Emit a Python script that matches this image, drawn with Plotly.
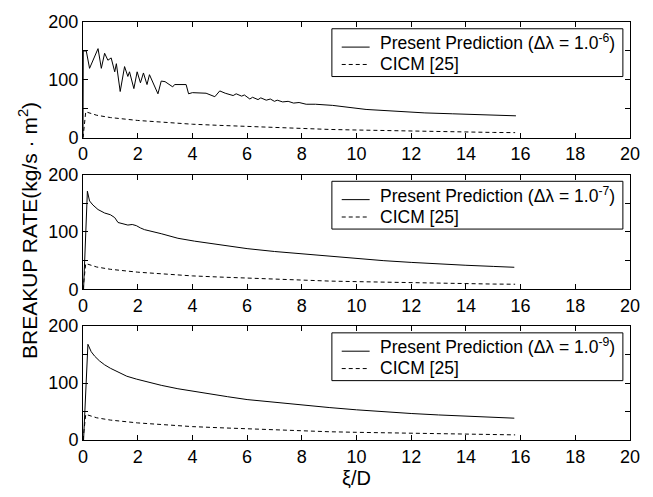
import plotly.graph_objects as go

# ---- data -------------------------------------------------------------
# Present prediction, step 1.0e-6 (oscillating solution)
x_p6 = [0.0, 0.01, 0.12, 0.24, 0.55, 0.67, 0.79, 0.91, 1.03, 1.16, 1.22, 1.36,
        1.52, 1.64, 1.70, 1.86, 1.98, 2.10, 2.21, 2.34, 2.43, 2.74, 2.86, 3.0,
        3.28, 3.35, 3.77, 3.86, 4.0, 4.5, 4.82, 5.0, 5.2, 5.49, 5.6, 5.8, 5.9,
        6.1, 6.2, 6.4, 6.5, 6.7, 6.85, 7.0, 7.1, 7.3, 7.5, 7.7, 7.9, 8.16, 8.5,
        9.13, 10.35, 11.57, 12.5, 13.5, 14.5, 15.83]
y_p6 = [0, 150, 150, 120, 154, 120, 146, 134, 138, 114, 128, 80,
        123, 106, 114, 85, 114, 95, 112, 92, 109, 76, 98, 97,
        88, 92, 92, 76, 78, 77, 71, 81, 77, 73, 76, 72, 74,
        67, 70, 66, 69, 65, 67, 63, 65, 62, 63, 60, 61, 58, 58,
        56, 49, 45, 43, 41.5, 40, 38]

# Present prediction, step 1.0e-7
x_p7 = [0.02, 0.16, 0.24, 0.36, 0.55, 0.79, 1.0, 1.16, 1.28, 1.64, 1.8, 1.95,
        2.1, 2.25, 2.86, 3.47, 4.08, 4.68, 5.29, 6.0, 7.0, 8.0, 9.0, 10.0,
        11.0, 12.0, 13.0, 14.0, 15.0, 15.77]
y_p7 = [0, 171, 154, 147, 139, 133, 130, 125, 116.5, 112, 113, 111,
        107, 104, 97, 89, 84, 80, 76, 71, 66, 62, 57, 53,
        50, 47, 44, 42, 40, 38.5]

# Present prediction, step 1.0e-9
x_p9 = [0.02, 0.18, 0.3, 0.43, 0.6, 0.79, 1.0, 1.28, 1.6, 1.95, 2.4, 2.86,
        3.47, 4.08, 4.68, 5.29, 6.0, 7.0, 8.0, 9.0, 10.0, 11.0, 12.0, 13.0,
        14.0, 15.0, 15.77]
y_p9 = [0, 168, 155, 147, 139, 132, 126, 119, 112, 107, 101, 96,
        90, 85, 81, 76, 71, 66, 61, 57, 53, 49.5, 46.5, 44,
        41.5, 39.5, 38.3]

# CICM [25] reference model
x_cicm = [0.0, 0.1, 0.5, 1.0, 2.0, 3.0, 4.0, 5.0, 6.0, 7.0, 8.0, 9.0, 10.0,
          11.0, 12.0, 13.0, 14.0, 15.0, 15.8]
y_cicm = [0, 45, 39, 35, 30, 26.5, 23.5, 21.5, 19.5, 17.5, 15.5, 14.5, 13.5,
          12.5, 11.5, 10.5, 10, 9.3, 9]

x_ticks = list(range(0, 21, 2))
y_ticks = [0, 50, 100, 150, 200]
y_ticktext = ["0", "", "100", "", "200"]

panels = [
    (x_p6, y_p6, "-6"),
    (x_p7, y_p7, "-7"),
    (x_p9, y_p9, "-9"),
]
name_cicm = "CICM [25]"

# ---- figure -----------------------------------------------------------
FONT = "Liberation Sans, Arial, sans-serif"
W, H = 653, 497
M = dict(l=83, r=23, t=16, b=48)
PLOT_H = H - M["t"] - M["b"]
domains = [[0.7229, 1.0], [0.3603, 0.6351], [0.0, 0.2725]]
DASH = "4px,3px"

# legend box geometry, in pixels measured down from each panel's top edge
BOX_TOP, BOX_BOT = 7.0, 56.5
ROW1, ROW2 = 26.0, 44.0          # sample lines
TXT1, TXT2 = 21.0, 43.5          # text centres (row 1 carries a superscript)
BOX_X0, BOX_X1 = 0.455, 0.987
SAMPLE_X0, SAMPLE_X1 = 0.473, 0.524
TEXT_X = 0.540
LEG_SIZE = 17.5

fig = go.Figure()
layout = dict(
    width=W, height=H, margin=M,
    paper_bgcolor="white", plot_bgcolor="white",
    font=dict(family=FONT, size=17, color="black"),
    showlegend=False,
)
shapes, annotations = [], []

for i, (xs, ys, exp) in enumerate(panels):
    n = i + 1
    xa = "x" if n == 1 else f"x{n}"
    ya = "y" if n == 1 else f"y{n}"
    label = f"Present Prediction (\u0394\u03bb = 1.0<sup>{exp}</sup>)"
    fig.add_trace(go.Scatter(
        x=xs, y=ys, mode="lines", xaxis=xa, yaxis=ya, name=label,
        line=dict(color="black", width=1),
    ))
    fig.add_trace(go.Scatter(
        x=x_cicm, y=y_cicm, mode="lines", xaxis=xa, yaxis=ya, name=name_cicm,
        line=dict(color="black", width=1, dash=DASH),
    ))
    axis_common = dict(
        showline=True, linecolor="black", linewidth=1, mirror="ticks",
        ticks="inside", ticklen=5, tickcolor="black", tickwidth=1,
        showgrid=False, zeroline=False,
        tickfont=dict(family=FONT, size=18, color="black"),
    )
    xkey = "xaxis" if n == 1 else f"xaxis{n}"
    ykey = "yaxis" if n == 1 else f"yaxis{n}"
    layout[xkey] = dict(axis_common, range=[0, 20], tickvals=x_ticks,
                        anchor=ya, domain=[0, 1])
    if n == 3:
        layout[xkey]["title"] = dict(text="\u03be/D", font=dict(size=20), standoff=4)
    layout[ykey] = dict(axis_common, range=[0, 200], tickvals=y_ticks,
                        ticktext=y_ticktext, anchor=xa, domain=domains[i])

    # legend box drawn inside each panel
    ph = (domains[i][1] - domains[i][0]) * PLOT_H
    fy = lambda px: 1 - px / ph
    xr, yr = f"{xa} domain", f"{ya} domain"
    shapes.append(dict(type="rect", xref=xr, yref=yr,
                       x0=BOX_X0, x1=BOX_X1, y0=fy(BOX_BOT), y1=fy(BOX_TOP),
                       line=dict(color="black", width=1), fillcolor="white",
                       layer="above"))
    rows = ((ROW1, TXT1, "solid", label), (ROW2, TXT2, DASH, name_cicm))
    for row, trow, dash, text in rows:
        shapes.append(dict(type="line", xref=xr, yref=yr,
                           x0=SAMPLE_X0, x1=SAMPLE_X1, y0=fy(row), y1=fy(row),
                           line=dict(color="black", width=1, dash=dash),
                           layer="above"))
        annotations.append(dict(text=text, xref=xr, yref=yr, x=TEXT_X, y=fy(trow),
                                xanchor="left", yanchor="middle", showarrow=False,
                                font=dict(family=FONT, size=LEG_SIZE, color="black")))

annotations.append(dict(
    text="BREAKUP RATE(kg/s \u00b7 m<sup>2</sup>)",
    xref="paper", yref="paper", x=-0.1005, y=0.5,
    xanchor="center", yanchor="middle", textangle=-90, showarrow=False,
    font=dict(family=FONT, size=21, color="black"),
))

layout["shapes"] = shapes
layout["annotations"] = annotations
fig.update_layout(**layout)
fig.write_html("out.html")
